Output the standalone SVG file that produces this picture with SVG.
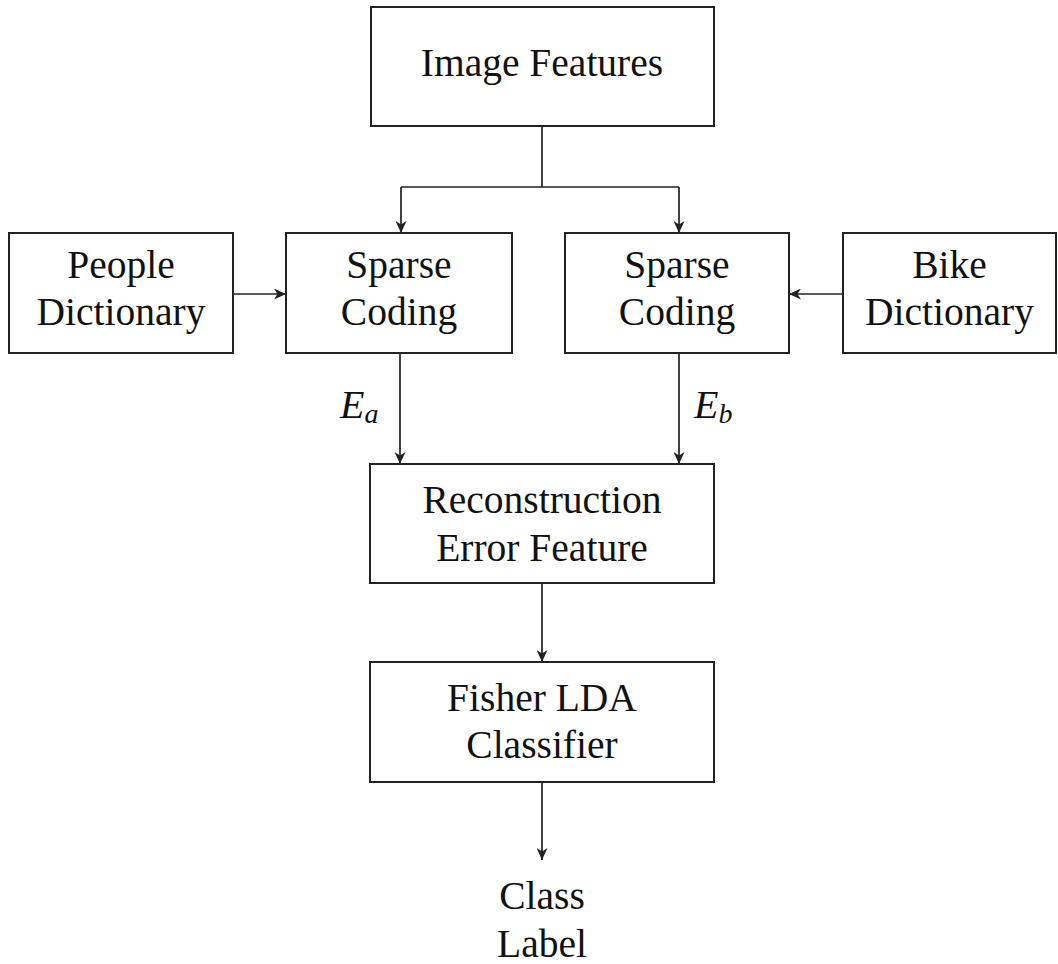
<svg xmlns="http://www.w3.org/2000/svg" width="1058" height="964" viewBox="0 0 1058 964">
<defs>
<style>
.box{fill:#fff;stroke:#222;stroke-width:2}
.t{font-family:"Liberation Serif","Times New Roman",serif;font-size:39.5px;fill:#111;text-anchor:middle}
.m{font-family:"Liberation Serif","Times New Roman",serif;font-style:italic;fill:#111}
.c{fill:none;stroke:#222;stroke-width:1.7}
</style>
<marker id="ah" markerWidth="13" markerHeight="11" refX="12" refY="5.5" orient="auto" markerUnits="userSpaceOnUse">
<path d="M0,0 L12,5.5 L0,11 L3.5,5.5 z" fill="#222"/>
</marker>
</defs>
<rect width="1058" height="964" fill="#fff"/>
<g id="connectors">
<path class="c" d="M542,126 V187 M401,187 H679"/>
<path class="c" d="M401,187 V233" marker-end="url(#ah)"/>
<path class="c" d="M679,187 V233" marker-end="url(#ah)"/>
<path class="c" d="M233,294 H286" marker-end="url(#ah)"/>
<path class="c" d="M843,294 H789" marker-end="url(#ah)"/>
<path class="c" d="M400,353 V464" marker-end="url(#ah)"/>
<path class="c" d="M679,353 V464" marker-end="url(#ah)"/>
<path class="c" d="M542,583 V662" marker-end="url(#ah)"/>
<path class="c" d="M542,782 V860" marker-end="url(#ah)"/>
<text class="m" x="340" y="418" font-size="40">E<tspan font-size="28" dy="5">a</tspan></text>
<text class="m" x="694" y="418" font-size="40">E<tspan font-size="28" dy="5">b</tspan></text>
</g>
<g id="image-features">
<rect class="box" x="371" y="7" width="343" height="119"/>
<text class="t" x="542" y="76">Image Features</text>
</g>
<g id="people-dictionary">
<rect class="box" x="9" y="233" width="224" height="120"/>
<text class="t" x="121" y="278">People</text>
<text class="t" x="121" y="325">Dictionary</text>
</g>
<g id="sparse-coding-a">
<rect class="box" x="286" y="233" width="226" height="120"/>
<text class="t" x="399" y="278">Sparse</text>
<text class="t" x="399" y="325">Coding</text>
</g>
<g id="sparse-coding-b">
<rect class="box" x="565" y="233" width="224" height="120"/>
<text class="t" x="677" y="278">Sparse</text>
<text class="t" x="677" y="325">Coding</text>
</g>
<g id="bike-dictionary">
<rect class="box" x="843" y="233" width="213" height="120"/>
<text class="t" x="949.5" y="278">Bike</text>
<text class="t" x="949.5" y="325">Dictionary</text>
</g>
<g id="reconstruction">
<rect class="box" x="370" y="464" width="344" height="119"/>
<text class="t" x="542" y="513">Reconstruction</text>
<text class="t" x="542" y="561">Error Feature</text>
</g>
<g id="fisher">
<rect class="box" x="370" y="662" width="344" height="120"/>
<text class="t" x="542" y="711">Fisher LDA</text>
<text class="t" x="542" y="758">Classifier</text>
</g>
<g id="class-label">
<text class="t" x="542" y="909">Class</text>
<text class="t" x="542" y="957">Label</text>
</g>
</svg>
